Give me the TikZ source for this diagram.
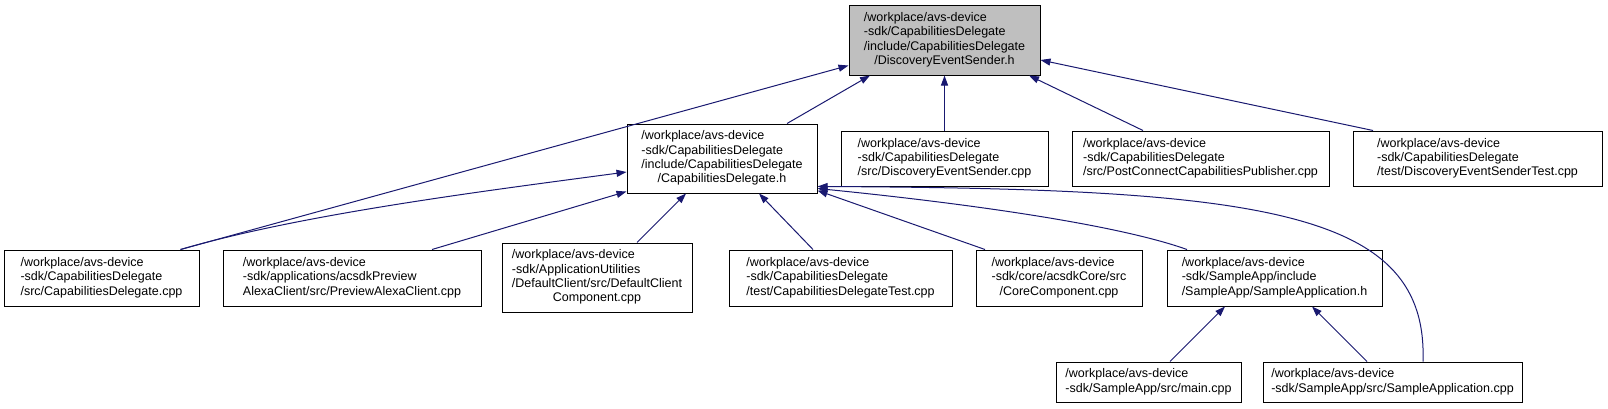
\documentclass[tikz,border=0pt]{standalone}
\usepackage{fontspec}
\setmainfont{Liberation Sans}
\usetikzlibrary{arrows.meta}
\definecolor{midnightblue}{RGB}{25,25,112}
\newcommand{\flines}[2]{\begin{tabular}{@{}l@{}}#1\\\multicolumn{1}{@{}c@{}}{#2}\end{tabular}}

\begin{document}
\begin{tikzpicture}[x=1pt, y=-1pt, >={Triangle[length=10pt,width=7pt]},
  file/.style={draw=black, line width=1pt, fill=white, inner sep=0pt,
    font=\fontsize{12.5}{14.3}\selectfont},
  cur/.style={file, fill=black!25},
  dep/.style={<-, draw=midnightblue, line width=1pt}]
  \useasboundingbox (0,0) rectangle (1608,408);

  % the header itself
  \node[cur, minimum width=191pt, minimum height=70pt] (dsh) at (944.5,40)
    {\flines{/workplace/avs-device\\-sdk/CapabilitiesDelegate\\/include/CapabilitiesDelegate}{/DiscoveryEventSender.h}};

  % second row
  \node[file, minimum width=190pt, minimum height=69pt] (cdh) at (722,158.5)
    {\flines{/workplace/avs-device\\-sdk/CapabilitiesDelegate\\/include/CapabilitiesDelegate}{/CapabilitiesDelegate.h}};
  \node[file, minimum width=207pt, minimum height=55pt] (desc) at (944.5,158.5)
    {\flines{/workplace/avs-device\\-sdk/CapabilitiesDelegate}{/src/DiscoveryEventSender.cpp}};
  \node[file, minimum width=257pt, minimum height=55pt] (pccp) at (1200.5,158.5)
    {\flines{/workplace/avs-device\\-sdk/CapabilitiesDelegate}{/src/PostConnectCapabilitiesPublisher.cpp}};
  \node[file, minimum width=249pt, minimum height=55pt] (dest) at (1477.5,158.5)
    {\flines{/workplace/avs-device\\-sdk/CapabilitiesDelegate}{/test/DiscoveryEventSenderTest.cpp}};

  % third row
  \node[file, minimum width=195pt, minimum height=56pt] (cdcpp) at (101.5,278)
    {\flines{/workplace/avs-device\\-sdk/CapabilitiesDelegate}{/src/CapabilitiesDelegate.cpp}};
  \node[file, minimum width=258pt, minimum height=56pt] (pacc) at (352,278)
    {\flines{/workplace/avs-device\\-sdk/applications/acsdkPreview}{AlexaClient/src/PreviewAlexaClient.cpp}};
  \node[file, minimum width=190pt, minimum height=69pt] (dccc) at (597,277.5)
    {\flines{/workplace/avs-device\\-sdk/ApplicationUtilities\\/DefaultClient/src/DefaultClient}{Component.cpp}};
  \node[file, minimum width=223pt, minimum height=56pt] (cdtest) at (840.5,278)
    {\flines{/workplace/avs-device\\-sdk/CapabilitiesDelegate}{/test/CapabilitiesDelegateTest.cpp}};
  \node[file, minimum width=166pt, minimum height=56pt] (core) at (1059,278)
    {\flines{/workplace/avs-device\\-sdk/core/acsdkCore/src}{/CoreComponent.cpp}};
  \node[file, minimum width=215pt, minimum height=56pt] (sah) at (1274.5,278)
    {\flines{/workplace/avs-device\\-sdk/SampleApp/include}{/SampleApp/SampleApplication.h}};

  % bottom row
  \node[file, minimum width=185pt, minimum height=40pt] (mainc) at (1148.5,382)
    {\flines{/workplace/avs-device}{-sdk/SampleApp/src/main.cpp}};
  \node[file, minimum width=259pt, minimum height=40pt] (sacpp) at (1392.5,382)
    {\flines{/workplace/avs-device}{-sdk/SampleApp/src/SampleApplication.cpp}};

  % includes of the header
  \draw[dep] ([yshift=10pt]dsh.south west) -- ([xshift=-19pt]cdcpp.north east);
  \draw[dep] ([xshift=-74.5pt]dsh.south) -- ([xshift=65pt]cdh.north);
  \draw[dep] (dsh.south) -- (desc.north);
  \draw[dep] ([xshift=84.5pt]dsh.south) -- ([xshift=-57.5pt]pccp.north);
  \draw[dep] ([yshift=-20pt]dsh.east) -- ([xshift=-104.5pt]dest.north);

  % includes of CapabilitiesDelegate.h
  \draw[dep] ([yshift=-13.5pt]cdh.west) .. controls +(-150,20) and +(120,-35) .. ([xshift=-19pt]cdcpp.north east);
  \draw[dep] ([yshift=2pt]cdh.south west) -- ([xshift=80pt]pacc.north);
  \draw[dep] ([xshift=-36pt]cdh.south) -- ([xshift=40pt]dccc.north);
  \draw[dep] ([xshift=37pt]cdh.south) -- ([xshift=-27.5pt]cdtest.north);
  \draw[dep] ([yshift=3pt]cdh.south east) -- ([xshift=-74pt]core.north);
  \draw[dep] ([yshift=5pt]cdh.south east) .. controls +(150,15) and +(-70,-25) .. ([xshift=-87.5pt]sah.north);
  \draw[dep] ([yshift=7pt]cdh.south east) .. controls +(450,2) and +(5,-150) .. ([xshift=30.5pt]sacpp.north);

  % includes of SampleApplication.h
  \draw[dep] ([xshift=-49.5pt]sah.south) -- ([xshift=21.5pt]mainc.north);
  \draw[dep] ([xshift=37.5pt]sah.south) -- ([xshift=-25.5pt]sacpp.north);
\end{tikzpicture}
\end{document}
